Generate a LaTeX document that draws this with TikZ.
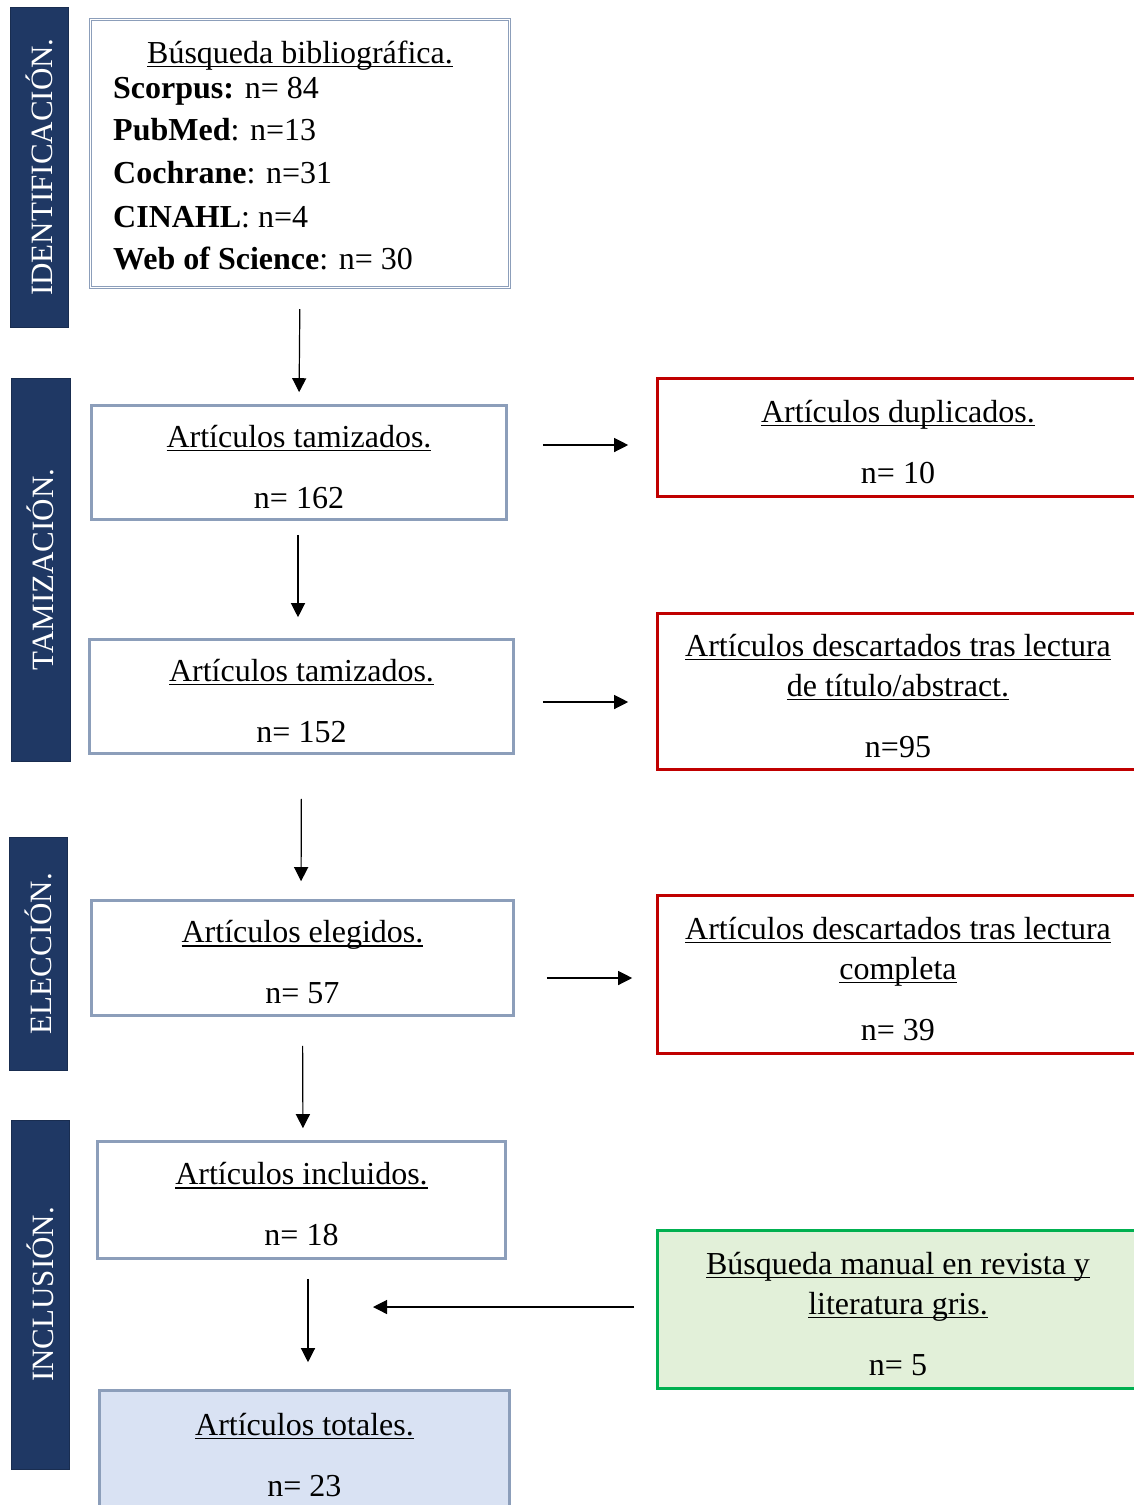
\documentclass[tikz,border=0pt]{standalone}
\usepackage{fontspec}
\setmainfont{Liberation Serif}
\usetikzlibrary{arrows.meta}
\definecolor{navy}{HTML}{1F3864}
\definecolor{boxgray}{HTML}{8C9EBA}
\definecolor{boxred}{HTML}{C00000}
\definecolor{boxgreen}{HTML}{00B050}
\definecolor{fillgreen}{HTML}{E2F0D9}
\definecolor{fillblue}{HTML}{D9E2F3}
\newcommand{\uln}[1]{\setbox0=\hbox{#1}\rlap{\rule[-4pt]{\wd0}{1.4pt}}\box0}
\newcommand{\ftstrut}{\rule{0pt}{31pt}}
\tikzset{
  txt/.style={font=\fontsize{32}{40}\selectfont},
  graybox/.style={draw=boxgray, line width=2.6pt, fill=white, align=center, txt, inner sep=0pt},
  redbox/.style={graybox, draw=boxred},
  greenbox/.style={graybox, draw=boxgreen, fill=fillgreen},
  totbox/.style={graybox, fill=fillblue},
  sidebar/.style={fill=navy, draw=navy!80!black, line width=1pt, text=white, font=\fontsize{31}{31}\selectfont, rotate=90, inner sep=0pt},
  arr/.style={line width=1.2pt, -{Triangle[length=14pt,width=14pt]}},
}
\begin{document}
\begin{tikzpicture}[x=1pt,y=-1pt]
\useasboundingbox (0,0) rectangle (1134,1505);
\clip (0,0) rectangle (1134,1505);
\fill[white] (0,0) rectangle (1134,1505);

% side bars
\node[sidebar, minimum width=320, minimum height=58] (sb1) at (39,167) {IDENTIFICACIÓN.};
\node[sidebar, minimum width=383, minimum height=59] (sb2) at (40.5,569.5) {TAMIZACIÓN.};
\node[sidebar, minimum width=233, minimum height=58] (sb3) at (38,953.5) {ELECCIÓN.};
\node[sidebar, minimum width=349, minimum height=58] (sb4) at (40,1294.5) {INCLUSIÓN.};

% identification box
\node[draw=boxgray, double=white, double distance=1.4pt, line width=1.2pt, fill=white,
      minimum width=419, minimum height=268] (B1) at (300,153.5) {};
\node[txt, anchor=base, inner sep=0pt] (B1t) at (300,63) {\uln{Búsqueda bibliográfica.}};
\node[txt, anchor=base west, inner sep=0pt] (B1a) at (113,98) {\textbf{Scorpus:} n= 84};
\node[txt, anchor=base west, inner sep=0pt] (B1b) at (113,140) {\textbf{PubMed}: n=13};
\node[txt, anchor=base west, inner sep=0pt] (B1c) at (113,183) {\textbf{Cochrane}: n=31};
\node[txt, anchor=base west, inner sep=0pt] (B1d) at (113,227) {\textbf{CINAHL}: n=4};
\node[txt, anchor=base west, inner sep=0pt] (B1e) at (113,269) {\textbf{Web of Science}: n= 30};

% left column
\node[graybox, minimum width=415, minimum height=114] (T1) at (299,462.5) {\ftstrut\uln{Artículos tamizados.}\\[21pt]n= 162};
\node[graybox, minimum width=424, minimum height=114] (T2) at (301.5,696.5) {\ftstrut\uln{Artículos tamizados.}\\[21pt]n= 152};
\node[graybox, minimum width=422, minimum height=115] (E1) at (302.5,958) {\ftstrut\uln{Artículos elegidos.}\\[21pt]n= 57};
\node[graybox, minimum width=408, minimum height=117] (I1) at (301.5,1200) {\ftstrut\uln{Artículos incluidos.}\\[21pt]n= 18};
\node[totbox, minimum width=410, minimum height=120] (Tot) at (304.5,1450.5) {\ftstrut\uln{Artículos totales.}\\[21pt]n= 23};

% right column
\node[redbox, minimum width=481, minimum height=118] (R1) at (898,437.5) {\ftstrut\uln{Artículos duplicados.}\\[21pt]n= 10};
\node[redbox, minimum width=481, minimum height=156] (R2) at (898,691.5) {\ftstrut\uln{Artículos descartados tras lectura}\\\uln{de título/abstract.}\\[21pt]n=95};
\node[redbox, minimum width=481, minimum height=158] (R3) at (898,974.5) {\ftstrut\uln{Artículos descartados tras lectura}\\\uln{completa}\\[21pt]n= 39};
\node[greenbox, minimum width=481, minimum height=158] (G) at (898,1309.5) {\ftstrut\uln{Búsqueda manual en revista y}\\\uln{literatura gris.}\\[21pt]n= 5};

% vertical arrows
\draw[arr, shorten <=21pt, shorten >=12pt] (B1.south) -- (T1.north);
\draw[arr, shorten <=14pt, shorten >=21pt] ([xshift=-1pt]T1.south) -- ([xshift=-3.5pt]T2.north);
\draw[arr, shorten <=44pt, shorten >=18pt] (T2.south) -- ([xshift=-1.5pt]E1.north);
\draw[arr, shorten <=29pt, shorten >=12pt] (E1.south) -- ([xshift=1.5pt]I1.north);
\coordinate (merge) at (308,1307);
\draw[arr, shorten <=19pt, shorten >=27pt] ([xshift=6.5pt]I1.south) -- ([xshift=3.5pt]Tot.north);

% horizontal arrows
\draw[arr, shorten <=35pt, shorten >=28pt] (T1.east |- 0,445) -- (R1.west |- 0,445);
\draw[arr, shorten <=28pt, shorten >=28pt] (T2.east |- 0,702) -- (R2.west |- 0,702);
\draw[arr, shorten <=32pt, shorten >=24pt] (E1.east |- 0,978) -- (R3.west |- 0,978);
\draw[arr, shorten <=22pt, shorten >=65pt] (G.west |- merge) -- (merge);
\end{tikzpicture}
\end{document}
